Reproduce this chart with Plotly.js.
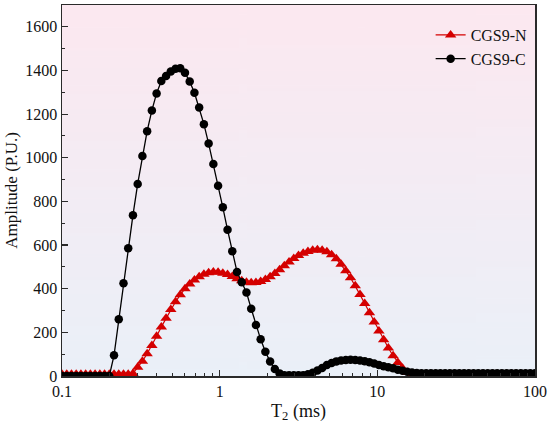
<!DOCTYPE html>
<html><head><meta charset="utf-8">
<script src="https://cdn.plot.ly/plotly-3.0.1.min.js"></script>
<style>html,body{margin:0;padding:0;background:#fff}#chart{width:550px;height:426px}</style>
</head><body><div id="chart"></div>
<script>
// T2 relaxation time grid (ms)
const t2 = [0.1,0.10715,0.11482,0.12303,0.13183,0.14125,0.15136,0.16218,0.17378,0.18621,
0.19953,0.2138,0.22909,0.24547,0.26303,0.28184,0.302,0.32359,0.34674,0.37154,
0.39811,0.42658,0.45709,0.48978,0.52481,0.56234,0.60256,0.64565,0.69183,0.74131,
0.79433,0.85114,0.91201,0.97724,1.0471,1.122,1.2023,1.2882,1.3804,1.4791,
1.5849,1.6982,1.8197,1.9498,2.0893,2.2387,2.3988,2.5704,2.7542,2.9512,
3.1623,3.3884,3.6308,3.8905,4.1687,4.4668,4.7863,5.1286,5.4954,5.8884,
6.3096,6.7608,7.2444,7.7625,8.3176,8.9125,9.5499,10.233,10.965,11.749,
12.589,13.49,14.454,15.488,16.596,17.783,19.055,20.417,21.878,23.442,
25.119,26.915,28.84,30.903,33.113,35.481,38.019,40.738,43.652,46.774,
50.119,53.703,57.544,61.66,66.069,70.795,75.858,81.283,87.096,93.325,100];

// CGS9-N amplitude (P.U.)
const ampN = [8,8,8,8,8,8,8,8,8,8,
8,8,8,8,8,12,40,68,102,140,
182,225,265,305,340,372,400,422,440,455,
466,473,476,475,471,465,456,446,437,430,
427,428,433,442,455,470,487,505,522,538,
552,563,571,576,578,576,569,556,537,512,
482,450,413,373,332,290,248,206,166,128,
93,62,36,16,8,6,6,6,6,6,
6,6,6,6,6,6,6,6,6,6,
6,6,6,6,6,6,6,6,6,6,6];

// CGS9-C amplitude (P.U.)
const ampC = [0,0,0,0,0,0,0,0,0,0,
0,95,260,425,585,737,880,1008,1122,1217,
1295,1352,1375,1395,1408,1410,1390,1349,1298,1230,
1154,1065,971,872,773,670,572,477,430,383,
308,234,168,111,66,32,12,4,3,3,
3,4,8,15,25,37,50,60,67,71,
73,74,73,71,68,63,57,50,45,40,
35,29,24,20,16,14,13,13,13,13,
13,13,13,13,13,13,13,13,13,13,
13,13,13,13,13,13,13,13,13,13,13];

const seriesNames = ['CGS9-N','CGS9-C'];
const xTickVals = [0.1,1,10,100];
const xTickText = ['0.1','1','10','100'];
const xMinorVals = [0.2,0.3,0.4,0.5,0.6,0.7,0.8,0.9,2,3,4,5,6,7,8,9,20,30,40,50,60,70,80,90];

// vertical gradient background for the plot area
function gradientURL(){
  const c=document.createElement('canvas'); c.width=4; c.height=256;
  const g=c.getContext('2d'); const gr=g.createLinearGradient(0,0,0,256);
  gr.addColorStop(0,'rgb(252,232,240)');
  gr.addColorStop(1,'rgb(234,240,248)');
  g.fillStyle=gr; g.fillRect(0,0,4,256);
  return c.toDataURL('image/png');
}

const serif = '"Liberation Serif","Times New Roman",serif';
const axisColor = '#2a2a2a';

const traces = [
  {x:t2, y:ampN, name:seriesNames[0], type:'scatter', mode:'lines+markers',
   line:{color:'#d40000', width:1.2},
   marker:{symbol:'triangle-up', size:10, color:'#d40000'}},
  {x:t2, y:ampC, name:seriesNames[1], type:'scatter', mode:'lines+markers',
   line:{color:'#000000', width:1.3},
   marker:{symbol:'circle', size:8.5, color:'#000000'}}
];

const layout = {
  width:550, height:426,
  margin:{l:62, r:15, t:5, b:50},
  paper_bgcolor:'#ffffff',
  plot_bgcolor:'rgba(0,0,0,0)',
  font:{family:serif, size:16, color:'#111'},
  showlegend:true,
  legend:{x:0.995, xanchor:'right', y:0.965, yanchor:'top',
          bgcolor:'rgba(0,0,0,0)', font:{family:serif, size:16, color:'#111'},
          tracegroupgap:0},
  images:[{source:gradientURL(), xref:'paper', yref:'paper', x:0, y:1,
           sizex:1, sizey:1, sizing:'stretch', xanchor:'left', yanchor:'top', layer:'below'}],
  xaxis:{type:'log', range:[-1,2], tickmode:'array', tickvals:xTickVals, ticktext:xTickText,
         ticks:'inside', ticklen:6, tickwidth:1.2, tickcolor:axisColor,
         minor:{tickmode:'array', tickvals:xMinorVals, ticks:'inside', ticklen:3, tickwidth:1, tickcolor:axisColor},
         showline:true, linecolor:axisColor, linewidth:1.5, mirror:true,
         showgrid:false, zeroline:false,
         tickfont:{family:serif, size:16, color:'#111'},
         title:{text:'T<sub>2</sub> (ms)', font:{family:serif, size:18, color:'#111'}, standoff:5}},
  yaxis:{range:[0,1700], tickmode:'linear', tick0:0, dtick:200,
         ticks:'inside', ticklen:6, tickwidth:1.2, tickcolor:axisColor,
         minor:{dtick:100, ticks:'inside', ticklen:3, tickwidth:1, tickcolor:axisColor},
         showline:true, linecolor:axisColor, linewidth:1.5, mirror:true,
         showgrid:false, zeroline:false,
         tickfont:{family:serif, size:16, color:'#111'},
         title:{text:'Amplitude (P.U.)', font:{family:serif, size:17, color:'#111'}, standoff:3}}
};

Plotly.newPlot('chart', traces, layout, {displayModeBar:false, staticPlot:true});
</script>
</body></html>
